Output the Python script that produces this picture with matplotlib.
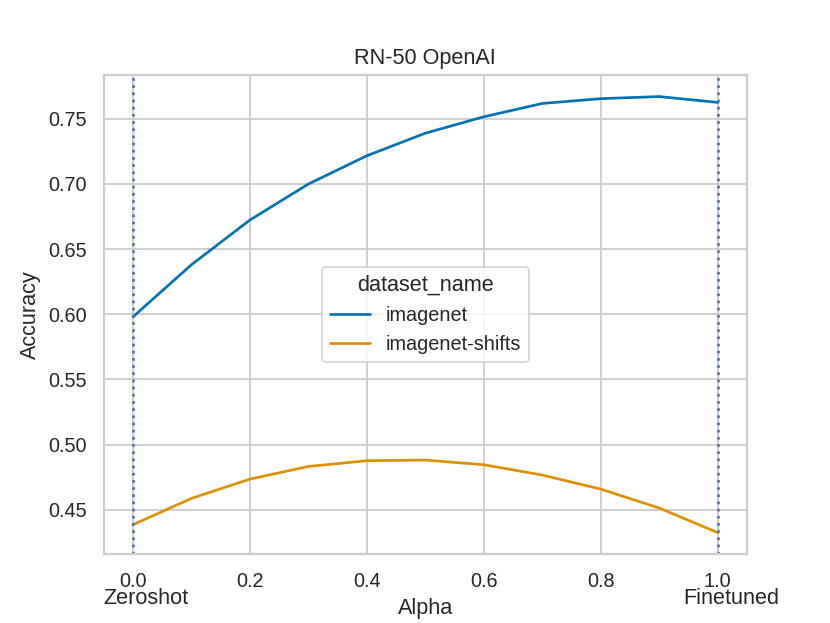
import matplotlib
matplotlib.use("Agg")
import matplotlib.pyplot as plt
import seaborn as sns
import numpy as np

alpha = [0.0, 0.1, 0.2, 0.3, 0.4, 0.5, 0.6, 0.7, 0.8, 0.9, 1.0]
imagenet = [0.598, 0.638, 0.6723, 0.6999, 0.7216, 0.7389, 0.7515, 0.7617, 0.7654, 0.767, 0.7625]
imagenet_shifts = [0.4385, 0.4587, 0.4735, 0.4832, 0.4876, 0.4881, 0.4845, 0.4766, 0.4658, 0.4513, 0.4324]
series_names = ["imagenet", "imagenet-shifts"]

sns.set_theme(style="whitegrid", palette="colorblind")
plt.rcParams['font.family'] = ['Liberation Sans', 'DejaVu Sans']

fig, ax = plt.subplots(figsize=(830/130, 623/130), dpi=130)
pal = sns.color_palette("colorblind")
ax.plot(alpha, imagenet, color=pal[0], lw=1.5, label=series_names[0])
ax.plot(alpha, imagenet_shifts, color=pal[1], lw=1.5, label=series_names[1])
ax.axvline(0.0, color="#4c72b0", linestyle=":", lw=1.5)
ax.axvline(1.0, color="#4c72b0", linestyle=":", lw=1.5)

ax.set_title("RN-50 OpenAI")
ax.set_xlabel("Alpha")
ax.set_ylabel("Accuracy")
ax.legend(title="dataset_name", loc="center")

ax.text(0.022, -0.069, "Zeroshot", transform=ax.get_xaxis_transform(), ha="center", va="top", fontsize=12)
ax.text(1.023, -0.069, "Finetuned", transform=ax.get_xaxis_transform(), ha="center", va="top", fontsize=12)

fig.savefig("out.png", dpi=130)
